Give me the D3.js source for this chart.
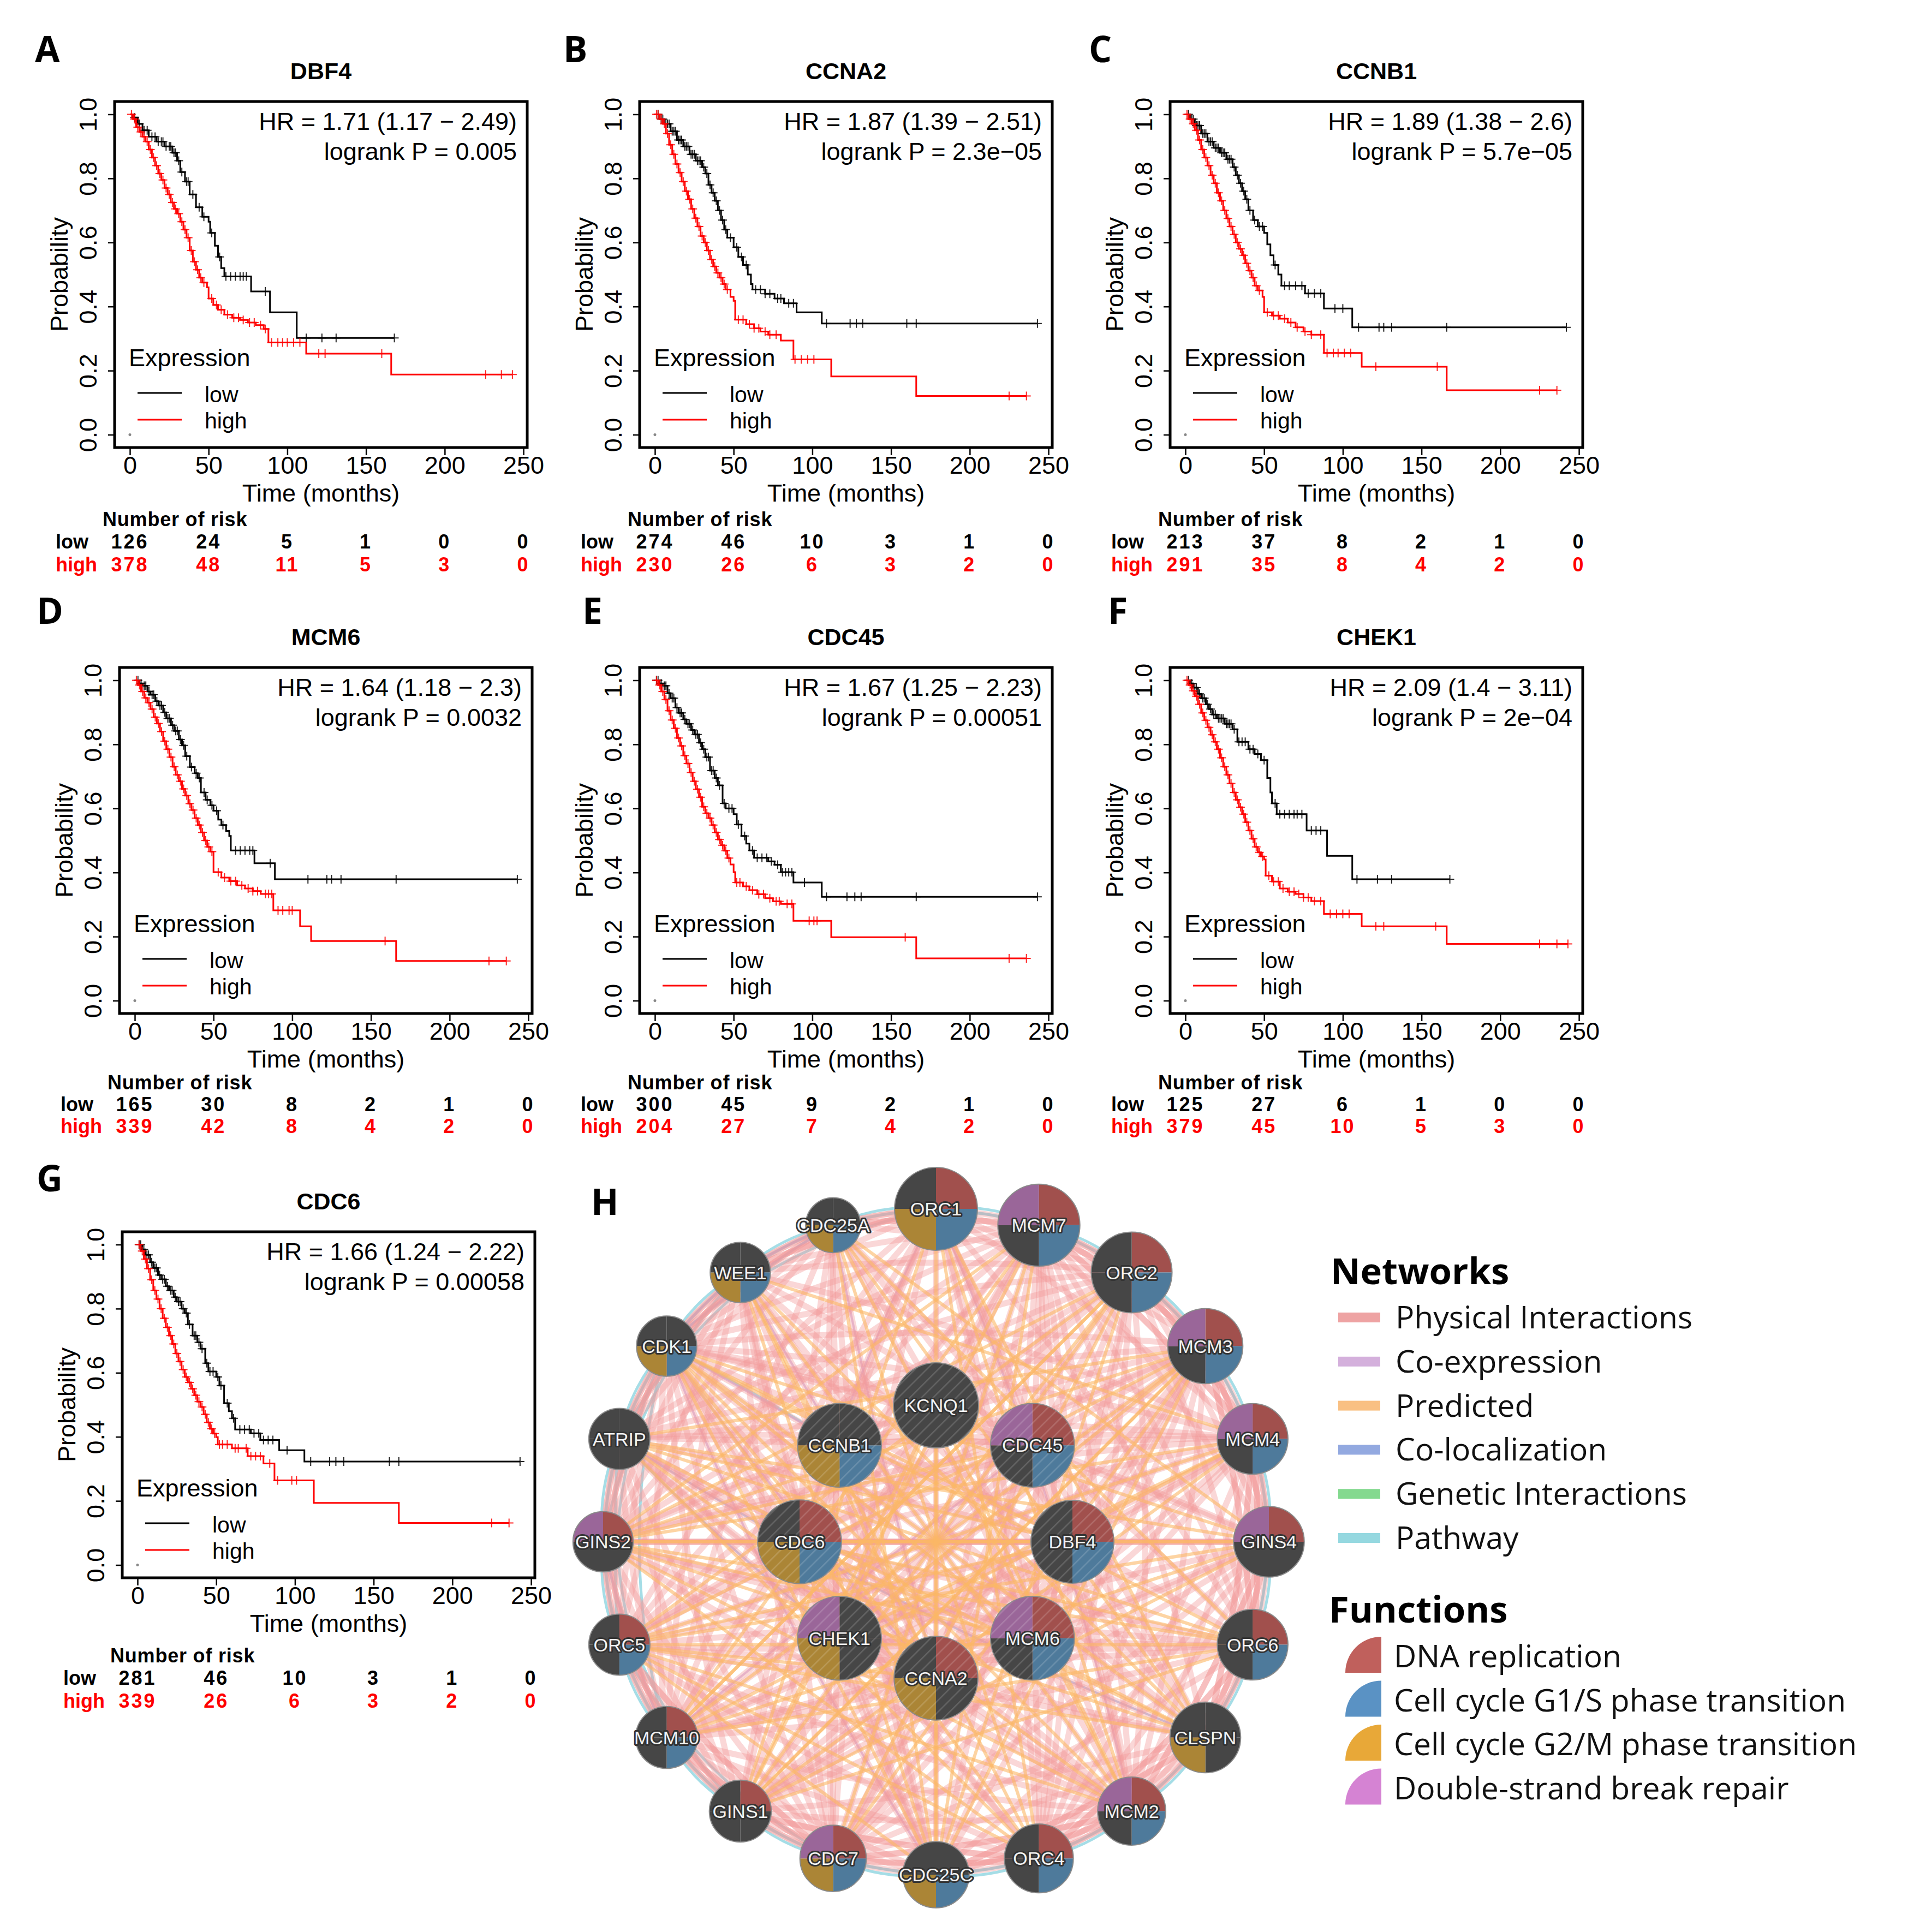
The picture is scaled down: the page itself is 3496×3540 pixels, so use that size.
<!DOCTYPE html>
<html><head><meta charset="utf-8">
<script src="https://cdn.jsdelivr.net/npm/d3@7"></script>
<style>body{margin:0;background:#fff}</style></head>
<body><svg id="c"></svg>
<script>
// ---------------- DATA ----------------
const genes = ["DBF4","CCNA2","CCNB1","MCM6","CDC45","CHEK1","CDC6"];
const panelLetters = ["A","B","C","D","E","F","G"];
const hrLabels = ["HR = 1.71 (1.17 \u2212 2.49)","HR = 1.87 (1.39 \u2212 2.51)","HR = 1.89 (1.38 \u2212 2.6)","HR = 1.64 (1.18 \u2212 2.3)","HR = 1.67 (1.25 \u2212 2.23)","HR = 2.09 (1.4 \u2212 3.11)","HR = 1.66 (1.24 \u2212 2.22)"];
const pLabels = ["logrank P = 0.005","logrank P = 2.3e\u221205","logrank P = 5.7e\u221205","logrank P = 0.0032","logrank P = 0.00051","logrank P = 2e\u221204","logrank P = 0.00058"];
const timeTicks = [0,50,100,150,200,250];
const probTicks = [0,0.2,0.4,0.6,0.8,1.0];
const riskLow  = [[126,24,5,1,0,0],[274,46,10,3,1,0],[213,37,8,2,1,0],[165,30,8,2,1,0],[300,45,9,2,1,0],[125,27,6,1,0,0],[281,46,10,3,1,0]];
const riskHigh = [[378,48,11,5,3,0],[230,26,6,3,2,0],[291,35,8,4,2,0],[339,42,8,4,2,0],[204,27,7,4,2,0],[379,45,10,5,3,0],[339,26,6,3,2,0]];

const lowSteps = [
 [[0,1],[2,0.99],[5,0.97],[8,0.95],[12,0.93],[17,0.915],[22,0.9],[27,0.88],[30,0.855],[32,0.82],[35,0.79],[38,0.75],[42,0.71],[46,0.68],[50,0.665],[51,0.63],[54,0.59],[56,0.555],[58,0.52],[60,0.494],[77,0.447],[89,0.382],[106,0.302]],
 [[0,1],[3,0.985],[6,0.97],[10,0.947],[14,0.92],[18,0.9],[22,0.875],[26,0.855],[30,0.835],[32,0.815],[34,0.78],[36,0.755],[38,0.73],[40,0.7],[42,0.67],[44,0.64],[46,0.615],[50,0.585],[53,0.555],[56,0.53],[59,0.5],[61,0.47],[62,0.453],[70,0.44],[76,0.425],[82,0.41],[90,0.382],[106,0.347]],
 [[0,1],[3,0.985],[6,0.965],[10,0.94],[14,0.915],[18,0.895],[22,0.88],[26,0.86],[30,0.835],[32,0.81],[34,0.785],[36,0.76],[38,0.735],[40,0.7],[43,0.67],[46,0.65],[50,0.63],[52,0.594],[54,0.56],[56,0.53],[59,0.5],[61,0.465],[76,0.441],[88,0.394],[106,0.335]],
 [[0,1],[3,0.99],[5,0.983],[8,0.965],[10,0.955],[13,0.935],[15,0.921],[18,0.9],[20,0.881],[23,0.86],[25,0.842],[28,0.815],[30,0.797],[32,0.763],[35,0.729],[38,0.71],[40,0.695],[42,0.65],[45,0.627],[48,0.61],[50,0.593],[53,0.565],[55,0.548],[58,0.53],[60,0.514],[61,0.469],[76,0.429],[89,0.379]],
 [[0,1],[3,0.99],[5,0.983],[8,0.96],[10,0.944],[13,0.915],[15,0.898],[18,0.878],[20,0.864],[23,0.845],[25,0.831],[28,0.805],[30,0.785],[32,0.76],[35,0.718],[38,0.695],[40,0.672],[43,0.616],[45,0.6],[50,0.582],[52,0.55],[55,0.514],[58,0.49],[60,0.469],[63,0.446],[72,0.435],[76,0.424],[80,0.401],[88,0.369],[106,0.324]],
 [[0,1],[3,0.99],[5,0.977],[8,0.958],[10,0.944],[13,0.925],[15,0.91],[17,0.893],[20,0.881],[25,0.864],[30,0.847],[33,0.808],[40,0.785],[44,0.77],[48,0.751],[52,0.695],[54,0.65],[55,0.616],[58,0.582],[77,0.531],[90,0.452],[106,0.379]],
 [[0,1],[3,0.985],[5,0.968],[8,0.945],[10,0.927],[13,0.905],[15,0.892],[18,0.87],[20,0.857],[23,0.836],[25,0.822],[28,0.8],[30,0.786],[32,0.751],[35,0.716],[38,0.695],[40,0.675],[43,0.63],[45,0.604],[50,0.587],[52,0.56],[55,0.505],[58,0.48],[60,0.458],[62,0.423],[72,0.411],[78,0.39],[90,0.358],[106,0.323]]
];
const highSteps = [
 [[0,1],[2,0.985],[4,0.96],[6,0.945],[8,0.93],[10,0.915],[12,0.89],[14,0.865],[16,0.84],[18,0.815],[20,0.795],[22,0.77],[24,0.75],[26,0.725],[28,0.705],[30,0.69],[32,0.665],[34,0.64],[36,0.615],[38,0.575],[40,0.54],[42,0.515],[44,0.49],[46,0.475],[49,0.46],[50,0.425],[53,0.405],[56,0.39],[60,0.375],[65,0.365],[70,0.358],[75,0.35],[80,0.342],[85,0.33],[88,0.288],[112,0.253],[166,0.188]],
 [[0,1],[3,0.985],[5,0.97],[7,0.94],[9,0.905],[11,0.875],[13,0.845],[15,0.818],[17,0.79],[19,0.76],[21,0.735],[23,0.705],[25,0.676],[27,0.65],[29,0.62],[31,0.6],[33,0.575],[35,0.547],[37,0.525],[39,0.505],[41,0.49],[43,0.47],[45,0.453],[48,0.43],[50,0.418],[51,0.359],[58,0.345],[63,0.332],[67,0.322],[72,0.312],[80,0.294],[88,0.235],[112,0.182],[166,0.121]],
 [[0,1],[2,0.985],[4,0.97],[6,0.95],[8,0.92],[10,0.89],[12,0.865],[14,0.84],[16,0.81],[18,0.785],[20,0.755],[22,0.73],[24,0.7],[26,0.675],[28,0.65],[30,0.625],[32,0.6],[34,0.58],[36,0.56],[38,0.535],[40,0.512],[42,0.49],[44,0.465],[46,0.45],[49,0.43],[50,0.382],[55,0.372],[60,0.362],[65,0.35],[70,0.335],[75,0.322],[80,0.312],[88,0.255],[112,0.212],[166,0.139]],
 [[0,1],[2,0.985],[4,0.965],[6,0.945],[8,0.93],[10,0.91],[12,0.885],[14,0.865],[16,0.84],[18,0.81],[20,0.785],[22,0.76],[24,0.73],[26,0.705],[28,0.685],[30,0.661],[32,0.64],[34,0.615],[36,0.595],[38,0.57],[40,0.548],[42,0.525],[44,0.5],[46,0.48],[48,0.465],[50,0.401],[55,0.384],[60,0.373],[65,0.36],[70,0.35],[75,0.342],[80,0.333],[88,0.282],[105,0.232],[112,0.186],[166,0.124]],
 [[0,1],[2,0.985],[4,0.965],[6,0.94],[8,0.905],[10,0.876],[12,0.85],[14,0.82],[16,0.795],[18,0.765],[20,0.74],[22,0.712],[24,0.685],[26,0.66],[28,0.635],[30,0.605],[32,0.585],[34,0.57],[36,0.548],[38,0.525],[40,0.503],[42,0.485],[44,0.468],[46,0.445],[48,0.425],[50,0.401],[51,0.369],[56,0.357],[60,0.345],[65,0.332],[70,0.32],[75,0.31],[80,0.302],[88,0.249],[112,0.198],[166,0.132]],
 [[0,1],[2,0.985],[4,0.967],[6,0.95],[8,0.925],[10,0.898],[12,0.875],[14,0.853],[16,0.83],[18,0.808],[20,0.785],[22,0.758],[24,0.73],[26,0.705],[28,0.678],[30,0.65],[32,0.627],[34,0.604],[36,0.582],[38,0.557],[40,0.531],[42,0.505],[44,0.48],[46,0.463],[48,0.45],[50,0.441],[51,0.39],[55,0.372],[60,0.35],[65,0.34],[70,0.333],[75,0.322],[80,0.311],[88,0.271],[112,0.232],[166,0.177]],
 [[0,1],[2,0.98],[4,0.955],[6,0.925],[8,0.89],[10,0.857],[12,0.83],[14,0.8],[16,0.77],[18,0.742],[20,0.716],[22,0.69],[24,0.66],[26,0.635],[28,0.61],[30,0.587],[32,0.57],[34,0.55],[36,0.53],[38,0.51],[40,0.493],[42,0.47],[44,0.445],[46,0.425],[48,0.41],[50,0.399],[51,0.376],[60,0.364],[70,0.34],[80,0.317],[87,0.264],[112,0.194],[166,0.131]]
];
const lowCensor = [
 [3,6,9,11,14,16,18,20,21,23,25,26,28,29,31,33,36,37,40,44,47,52,57,61,64,67,70,72,74,86,112,122,131,168],
 [2,4,5,7,8,9,11,12,13,15,16,17,19,20,21,23,24,25,27,28,29,31,33,35,37,39,41,43,45,48,52,55,58,64,67,70,73,78,80,85,88,109,124,128,132,160,166,243],
 [2,4,5,7,8,9,11,12,13,15,16,17,19,20,21,23,24,25,27,28,29,31,33,35,37,39,41,44,47,49,57,63,66,70,74,78,82,86,95,100,110,123,126,131,166,242],
 [2,4,6,7,9,11,12,14,16,17,19,21,22,24,26,27,29,31,33,36,39,41,44,46,49,52,56,64,67,70,73,75,86,110,122,125,131,166,243],
 [1,2,4,6,7,9,11,12,14,16,17,19,21,22,24,26,27,29,31,33,34,36,37,39,41,44,47,49,53,57,62,65,68,71,74,78,81,83,85,87,95,109,122,127,131,166,243],
 [2,4,6,7,9,11,12,14,16,18,19,21,22,23,24,26,27,28,29,31,34,36,38,41,43,46,50,57,60,63,66,69,71,74,80,83,86,109,122,131,168],
 [1,2,4,6,7,9,11,12,14,16,17,19,21,22,24,26,27,29,31,33,36,37,39,41,44,46,48,51,53,57,61,65,68,71,74,77,80,83,86,95,110,122,126,131,160,166,243]
];
const highCensor = [
 [1,3,5,7,9,11,13,15,17,19,21,23,25,27,29,31,33,35,37,39,41,43,45,47,52,55,58,62,66,69,72,76,79,83,86,90,94,97,100,104,108,120,124,160,226,236,243],
 [1,2,4,6,8,10,12,14,16,18,20,22,24,26,28,30,32,34,36,38,40,42,44,46,53,56,60,63,66,70,73,77,89,93,97,101,225,236],
 [1,3,5,7,9,11,13,15,17,19,21,23,25,27,29,31,33,35,37,39,41,43,45,47,52,56,59,63,67,71,76,80,86,90,94,97,101,105,121,160,225,236],
 [1,3,5,7,9,11,13,15,17,19,21,23,25,27,29,31,33,35,37,39,41,43,45,47,49,53,57,61,64,68,72,75,78,83,85,87,91,94,98,100,159,225,236],
 [1,3,5,7,9,11,13,15,17,19,21,23,25,27,29,31,33,35,37,39,41,43,45,47,52,54,58,62,66,69,73,77,79,84,87,98,101,103,159,225,236],
 [1,3,5,7,9,11,13,15,17,19,21,23,25,27,29,31,33,35,37,39,41,43,45,47,49,53,56,59,62,66,69,72,75,78,82,86,92,96,100,104,121,126,159,225,236,243],
 [1,3,5,7,9,11,13,15,17,19,21,23,25,27,29,31,33,35,37,39,41,43,45,47,49,52,54,57,62,64,69,72,75,78,84,89,98,101,225,236]
];

// Network (panel H)
const outerNodes = ["ORC1","MCM7","ORC2","MCM3","MCM4","GINS4","ORC6","CLSPN","MCM2","ORC4","CDC25C","CDC7","GINS1","MCM10","ORC5","GINS2","ATRIP","CDK1","WEE1","CDC25A"];
const outerScore = [0.95,0.94,0.925,0.86,0.81,0.81,0.81,0.81,0.78,0.79,0.76,0.76,0.71,0.71,0.70,0.69,0.70,0.69,0.69,0.63];
const outerFunc = [[1,1,1,0],[1,1,0,1],[1,1,0,0],[1,1,0,1],[1,1,0,1],[1,0,0,1],[1,1,0,0],[0,0,1,0],[1,1,0,1],[1,1,0,0],[0,1,1,0],[1,1,1,1],[1,0,0,0],[1,1,0,0],[1,1,0,0],[1,0,0,1],[0,0,0,0],[0,1,1,0],[0,1,1,0],[0,1,1,0]];
const innerNodes = ["KCNQ1","CDC45","DBF4","MCM6","CCNA2","CHEK1","CDC6","CCNB1"];
const innerScore = [0.975,0.96,0.95,0.96,0.96,0.96,0.96,0.96];
const innerFunc = [[0,0,0,0],[1,1,0,1],[1,1,0,0],[1,1,0,1],[1,0,1,0],[0,0,1,1],[1,1,1,0],[0,1,1,0]];
// function order: DNA replication, G1/S, G2/M, DSB repair
const functionNames = ["DNA replication","Cell cycle G1/S phase transition","Cell cycle G2/M phase transition","Double-strand break repair"];
const networkNames = ["Physical Interactions","Co-expression","Predicted","Co-localization","Genetic Interactions","Pathway"];

const physicalAdj = [
"ORC1: ORC2 ORC4 ORC5 ORC6 CDC6 MCM2 MCM3 MCM4 MCM6 MCM7 CDC45 DBF4 CDC7 CCNA2 MCM10 GINS2 CDK1 CDC25A CCNB1 GINS1 WEE1",
"ORC2: ORC4 ORC5 ORC6 CDC6 MCM2 MCM3 MCM4 MCM6 MCM7 DBF4 CDC7 MCM10 GINS1 CDC45 CDK1 ATRIP GINS2 WEE1 CDC25A",
"ORC4: ORC5 ORC6 CDC6 MCM2 MCM3 MCM6 MCM7 DBF4 MCM4 GINS4 MCM10 GINS1 CDC7 CDK1",
"ORC5: ORC6 CDC6 MCM2 MCM3 MCM4 MCM6 MCM7 MCM10 DBF4 CDC45 GINS2 GINS1 CDC7 GINS4 CCNA2 CDK1 WEE1",
"ORC6: CDC6 MCM2 MCM4 MCM6 MCM7 CDC45 CHEK1 MCM3 MCM10 GINS2 CDC7 DBF4 CLSPN",
"MCM2: MCM3 MCM4 MCM6 MCM7 MCM10 CDC45 GINS1 GINS2 GINS4 CDC7 DBF4 CDC6 CHEK1 CCNA2 CDK1 ATRIP CLSPN CDC25C WEE1 CDC25A",
"MCM3: MCM4 MCM6 MCM7 MCM10 CDC45 GINS1 GINS2 GINS4 CDC7 DBF4 CDC6 CCNA2 CDK1 CHEK1 ATRIP CDC25C",
"MCM4: MCM6 MCM7 MCM10 CDC45 GINS1 GINS2 GINS4 CDC7 DBF4 CDC6 CHEK1 CLSPN CDK1 ATRIP WEE1 CCNB1",
"MCM6: MCM7 MCM10 CDC45 GINS1 GINS2 GINS4 CDC7 DBF4 CDC6 CCNA2 CHEK1 CDK1 WEE1 CDC25A ATRIP",
"MCM7: MCM10 CDC45 GINS1 GINS2 GINS4 CDC7 DBF4 CDC6 CCNA2 CDK1 CHEK1 CLSPN ATRIP CDC25C WEE1",
"MCM10: CDC45 GINS1 GINS2 GINS4 CDC7 DBF4 CDC6 CHEK1 CCNA2 CDK1 ATRIP CDC25A WEE1",
"CDC45: GINS1 GINS2 GINS4 CDC7 DBF4 CDC6 CCNA2 CCNB1 CDK1 CLSPN CHEK1 ATRIP WEE1 CDC25A",
"GINS1: GINS2 GINS4 CDC7 DBF4 CDC6 CCNA2 CDK1 ATRIP CLSPN",
"GINS2: GINS4 CDC6 DBF4 CDC7 CHEK1 CDK1 ATRIP WEE1 CDC25A CCNB1",
"GINS4: CDC7 DBF4 CDC6 CDK1 CLSPN CDC25C",
"CDC6: CDC7 DBF4 CCNA2 CCNB1 CDK1 CHEK1 CDC25A WEE1 ATRIP CDC25C",
"CDC7: DBF4 CCNA2 CHEK1 CLSPN CDK1 CCNB1 ATRIP WEE1",
"DBF4: CCNA2 CHEK1 CLSPN CDK1 CCNB1 ATRIP CDC25A CDC25C",
"CCNA2: CCNB1 CDK1 CDC25A CDC25C WEE1 CHEK1 CLSPN ATRIP",
"CCNB1: CDK1 CDC25A CDC25C WEE1 CHEK1 CLSPN ATRIP",
"CDK1: CDC25A CDC25C WEE1 CHEK1 CLSPN ATRIP",
"CDC25A: CDC25C WEE1 CHEK1 ATRIP",
"CDC25C: WEE1 CHEK1 CLSPN",
"WEE1: CHEK1 ATRIP CLSPN",
"CHEK1: CLSPN ATRIP KCNQ1",
"CLSPN: ATRIP",
"KCNQ1: CCNB1 CDK1 MCM7",
"MCM7: ORC2 MCM3 MCM4 CDC25A",
"ORC2: MCM3 MCM4 GINS4",
"MCM3: GINS4 ORC6",
"MCM4: GINS4 ORC6 CLSPN",
"GINS4: ORC6 CLSPN MCM2",
"ORC6: CLSPN ORC4",
"CLSPN: MCM2 ORC4 CDC25C",
"MCM2: ORC4 CDC25C CDC7",
"ORC4: CDC25C CDC7 GINS1",
"CDC25C: CDC7 GINS1 MCM10",
"CDC7: GINS1 MCM10 ORC5",
"GINS1: MCM10 ORC5",
"MCM10: ORC5 GINS2",
"ORC5: GINS2 ATRIP",
"GINS2: ATRIP CDK1",
"ATRIP: CDK1 WEE1",
"CDK1: WEE1 CDC25A",
"WEE1: CDC25A ORC1",
"CDC25A: ORC1 MCM7"
];
const predictedAdj = [
"GINS2: DBF4 MCM4 GINS4 ORC6 CLSPN MCM3 CDC45 MCM6 ORC2 MCM7 MCM2 ORC4",
"ORC5: DBF4 GINS4 MCM4 CLSPN ORC2 MCM2 CCNA2 CDC25C ORC4 MCM3 ORC6",
"CDK1: MCM2 ORC4 GINS4 CLSPN MCM6 CCNA2 DBF4 ORC6 CDC25C",
"ATRIP: MCM3 ORC6 CLSPN ORC4 MCM2 GINS4 DBF4",
"WEE1: CLSPN MCM2 CCNA2 MCM4 ORC4 CDC25C",
"CDC25A: MCM2 CLSPN CDC25C ORC4 GINS4 ORC6",
"MCM10: MCM4 GINS4 ORC6 MCM3 ORC2",
"ORC1: CLSPN CDC25C MCM2 ORC4 GINS1",
"MCM7: GINS1 MCM10 CDC7 CDC25C",
"ORC2: GINS1 MCM10 CDC25C CDC7",
"MCM3: GINS1 CDC7 CDC25C",
"GINS1: ORC6 MCM4 GINS4 MCM3",
"KCNQ1: CDC25C CHEK1 MCM2 GINS1",
"CDC6: GINS4 ORC6 CLSPN",
"CHEK1: MCM3 ORC2 MCM4"
];
const pathwayAdj = [
"CDK1: WEE1 CDC25A ATRIP GINS2 ORC5 MCM10 ORC1 CCNB1",
"WEE1: CDC25A ORC1 ATRIP GINS2",
"CDC25A: ORC1 MCM7 ATRIP",
"ATRIP: GINS2 ORC5 MCM10",
"GINS2: ORC5 MCM10 GINS1",
"ORC5: MCM10 GINS1 CDC7",
"MCM10: GINS1 CDC7",
"GINS1: CDC7 CDC25C",
"CDC7: CDC25C ORC4",
"CDC25C: ORC4 MCM2",
"ORC4: MCM2 CLSPN",
"MCM2: CLSPN ORC6",
"CLSPN: ORC6 GINS4",
"ORC6: GINS4 MCM4",
"GINS4: MCM4 MCM3",
"MCM4: MCM3 ORC2",
"MCM3: ORC2 MCM7",
"ORC2: MCM7 ORC1",
"MCM7: ORC1"
];
const coexpAdj = ["CDK1: CCNB1 CCNA2 WEE1 CDC25C","WEE1: CCNB1 CDC25A","MCM10: CDC45 GINS2","ORC1: CDC6 MCM2","CDC25A: CCNA2 CDK1"];
const colocAdj = ["CDK1: WEE1 CDC25A","ATRIP: CHEK1 CLSPN","WEE1: CDC25A"];

// ---------------- LAYOUT / STYLE ----------------
const W = 3496, H = 3540;
const kmFont = "'Liberation Sans', Arial, sans-serif";
const calFont = "'Open Sans', 'Noto Sans', sans-serif";
const RED = "#ff0000";
const boxPos = [[210,186],[1172,186],[2144,186],[219,1223],[1172,1223],[2144,1223],[224,2257]];
const boxW = 756, boxH = 634;
const letterPos = [[64,114],[1032,114],[1995,114],[67,1143],[1067,1143],[2030,1143],[67,2183]];
const riskOff = [[144,185,227],[144,185,227],[144,185,227],[139,179,219],[139,179,219],[139,179,219],[155,196,238]];
const timeDomain = [-9.7,252.4], probDomain = [-0.04,1.04];

const svg = d3.select("#c").attr("width",W).attr("height",H).attr("viewBox",`0 0 ${W} ${H}`);
svg.append("rect").attr("width",W).attr("height",H).attr("fill","#fff");

// ---------------- KM PANELS ----------------
genes.forEach((gene,i)=>{
  const [bx,by] = boxPos[i];
  const g = svg.append("g");
  const x = d3.scaleLinear().domain(timeDomain).range([bx,bx+boxW]);
  const y = d3.scaleLinear().domain(probDomain).range([by+boxH,by]);

  svg.append("text").attr("x",letterPos[i][0]).attr("y",letterPos[i][1]).text(panelLetters[i])
     .attr("font-family",calFont).attr("font-weight",700).attr("font-size",66);
  g.append("text").attr("x",bx+boxW/2).attr("y",by-41).attr("text-anchor","middle").text(gene)
     .attr("font-family",kmFont).attr("font-weight",700).attr("font-size",43);

  const xa = g.append("g").attr("transform",`translate(0,${by+boxH})`)
     .call(d3.axisBottom(x).tickValues(timeTicks).tickSize(14).tickPadding(2).tickSizeOuter(0));
  xa.select(".domain").remove();
  xa.selectAll("line").attr("stroke","#000").attr("stroke-width",2.5);
  xa.selectAll("text").attr("font-family",kmFont).attr("font-size",45).attr("fill","#000");

  const ya = g.append("g").attr("transform",`translate(${bx},0)`)
     .call(d3.axisLeft(y).tickValues(probTicks).tickFormat(d3.format(".1f")).tickSize(12).tickSizeOuter(0));
  ya.select(".domain").remove();
  ya.selectAll("line").attr("stroke","#000").attr("stroke-width",2.5);
  ya.selectAll("text").attr("x",null).attr("dy",null).attr("text-anchor","middle")
     .attr("transform","translate(-33,0) rotate(-90)")
     .attr("font-family",kmFont).attr("font-size",45).attr("fill","#000");

  g.append("text").attr("transform",`translate(${bx-86},${by+boxH/2}) rotate(-90)`).attr("text-anchor","middle")
     .text("Probability").attr("font-family",kmFont).attr("font-size",45);
  g.append("text").attr("x",bx+boxW/2).attr("y",by+boxH+99).attr("text-anchor","middle")
     .text("Time (months)").attr("font-family",kmFont).attr("font-size",45);

  g.append("circle").attr("cx",x(0)).attr("cy",y(0)).attr("r",2.5).attr("fill","#888");

  const series = [[lowSteps[i],lowCensor[i],"#000"],[highSteps[i],highCensor[i],RED]];
  const bis = d3.bisector(d=>d[0]).right;
  series.forEach(([steps,cens,col])=>{
    const end = d3.max(cens);
    const pts = steps.concat([[end, steps[steps.length-1][1]]]);
    g.append("path").attr("d", d3.line().x(d=>x(d[0])).y(d=>y(d[1])).curve(d3.curveStepAfter)(pts))
      .attr("fill","none").attr("stroke",col).attr("stroke-width",3);
    g.selectAll(null).data(cens).enter().append("path")
      .attr("transform",t=>`translate(${x(t)},${y(steps[bis(steps,t)-1][1])})`)
      .attr("d","M-8,0H8M0,-8V8").attr("stroke",col).attr("stroke-width",2).attr("opacity",0.85);
  });

  g.append("rect").attr("x",bx).attr("y",by).attr("width",boxW).attr("height",boxH)
     .attr("fill","none").attr("stroke","#000").attr("stroke-width",5);

  g.append("text").attr("x",bx+boxW-19).attr("y",by+52).attr("text-anchor","end").text(hrLabels[i])
     .attr("font-family",kmFont).attr("font-size",45);
  g.append("text").attr("x",bx+boxW-19).attr("y",by+107).attr("text-anchor","end").text(pLabels[i])
     .attr("font-family",kmFont).attr("font-size",45);
  g.append("text").attr("x",bx+26).attr("y",by+485).text("Expression").attr("font-family",kmFont).attr("font-size",45);
  [["low","#000",534,551],["high",RED,583,599]].forEach(([lab,col,ly,ty])=>{
    g.append("line").attr("x1",bx+42).attr("x2",bx+123).attr("y1",by+ly).attr("y2",by+ly).attr("stroke",col).attr("stroke-width",3);
    g.append("text").attr("x",bx+165).attr("y",by+ty).text(lab).attr("font-family",kmFont).attr("font-size",41);
  });

  // risk table
  const base = by+boxH;
  const riskStyle = s=>s.attr("font-family",kmFont).attr("font-weight",700).attr("font-size",36);
  g.append("text").attr("x",bx-22).attr("y",base+riskOff[i][0]).text("Number of risk").call(riskStyle).attr("letter-spacing",0.8);
  [["low",riskLow[i],"#000",riskOff[i][1]],["high",riskHigh[i],RED,riskOff[i][2]]].forEach(([lab,vals,col,off])=>{
    g.append("text").attr("x",bx-108).attr("y",base+off).text(lab).attr("fill",col).call(riskStyle);
    g.selectAll(null).data(vals).enter().append("text")
      .attr("x",(d,j)=>x(timeTicks[j])).attr("y",base+off).attr("text-anchor","middle").text(d=>d)
      .attr("fill",col).call(riskStyle).attr("letter-spacing",3);
  });
});

// ---------------- NETWORK PANEL H ----------------
svg.append("text").attr("x",1083).attr("y",2226).text("H").attr("font-family",calFont).attr("font-weight",700).attr("font-size",66);

const defs = svg.append("defs");
const pat = defs.append("pattern").attr("id","hatch").attr("patternUnits","userSpaceOnUse")
  .attr("width",15).attr("height",15).attr("patternTransform","rotate(45)");
pat.append("line").attr("x1",0).attr("y1",0).attr("x2",0).attr("y2",15).attr("stroke","rgba(255,255,255,0.16)").attr("stroke-width",5);

const cx = 1715, cy = 2825, R1 = 610, R2 = 250;
const outerAng = d3.scaleLinear().domain([0,outerNodes.length]).range([-Math.PI/2, 1.5*Math.PI]);
const innerAng = d3.scaleLinear().domain([0,innerNodes.length]).range([-Math.PI/2, 1.5*Math.PI]);
const rScale = d3.scaleLinear().domain([0,1]).range([0,80]);
const nodes = {};
outerNodes.forEach((n,i)=>{ nodes[n] = {name:n, x:cx+R1*Math.cos(outerAng(i)), y:cy+R1*Math.sin(outerAng(i)), r:rScale(outerScore[i]), f:outerFunc[i], q:false}; });
innerNodes.forEach((n,i)=>{ nodes[n] = {name:n, x:cx+R2*Math.cos(innerAng(i)), y:cy+R2*Math.sin(innerAng(i)), r:rScale(innerScore[i]), f:innerFunc[i], q:true}; });

function parseAdj(list){
  const out=[];
  list.forEach(s=>{ const parts=s.split(":"); const a=parts[0].trim();
    parts[1].trim().split(/\s+/).forEach(b=>{ if(nodes[a]&&nodes[b]) out.push([nodes[a],nodes[b]]); }); });
  return out;
}
function edgePath(a,b,bend){
  const mx=(a.x+b.x)/2, my=(a.y+b.y)/2;
  let dx=mx-cx, dy=my-cy; const dl=Math.hypot(dx,dy)||1;
  const len=Math.hypot(b.x-a.x,b.y-a.y);
  const qx=mx+dx/dl*len*bend, qy=my+dy/dl*len*bend;
  const p=d3.path(); p.moveTo(a.x,a.y); p.quadraticCurveTo(qx,qy,b.x,b.y); return p.toString();
}
const edgeLayer = svg.append("g");
const edgeTypes = [
  [pathwayAdj,"#8fd4e0",5,0.8,0.14],
  [coexpAdj,"#d3a8da",4,0.7,0.05],
  [colocAdj,"#9fb2e2",4,0.7,0.05],
  [physicalAdj,"#f29a9a",11,0.4,0.05],
  [predictedAdj,"#fbb866",6,0.6,0.0]
];
edgeTypes.forEach(([adj,col,w,op,bend])=>{
  edgeLayer.selectAll(null).data(parseAdj(adj)).enter().append("path")
    .attr("d",d=>edgePath(d[0],d[1],bend)).attr("fill","none")
    .attr("stroke",col).attr("stroke-width",w).attr("stroke-opacity",op).attr("stroke-linecap","round");
});

const funcCols = ["#a1504d","#4e7a9b","#ab8536","#9a6699"];
const nodeGray = "#464646";
const arc = d3.arc().innerRadius(0);
const quadrants = [[0,Math.PI/2],[Math.PI/2,Math.PI],[Math.PI,1.5*Math.PI],[1.5*Math.PI,2*Math.PI]];
const nodeLayer = svg.append("g");
Object.values(nodes).forEach(n=>{
  const ng = nodeLayer.append("g").attr("transform",`translate(${n.x},${n.y})`);
  ng.selectAll(null).data(quadrants).enter().append("path")
    .attr("d",(q)=>arc({outerRadius:n.r,startAngle:q[0],endAngle:q[1]}))
    .attr("fill",(q,k)=>n.f[k]?funcCols[k]:nodeGray);
  if(n.q) ng.append("circle").attr("r",n.r).attr("fill","url(#hatch)");
  ng.append("circle").attr("r",n.r).attr("fill","none").attr("stroke","#8a8a8a").attr("stroke-width",2);
  ng.append("text").attr("text-anchor","middle").attr("dy","0.36em").text(n.name)
    .attr("font-family",kmFont).attr("font-size",34).attr("fill","#f2f2f2")
    .attr("stroke","#333").attr("stroke-width",6).attr("paint-order","stroke").attr("stroke-linejoin","round");
});

// ---------------- LEGEND ----------------
const leg = svg.append("g").attr("font-family",calFont);
leg.append("text").attr("x",2438).attr("y",2353).text("Networks").attr("font-weight",700).attr("font-size",67);
const netCols = ["#eea3a3","#d4b0dc","#f9c083","#93a9e0","#84d98f","#95d8e0"];
leg.selectAll(null).data(networkNames).enter().append("g").each(function(d,i){
  const yy = 2414 + 80.8*i;
  d3.select(this).append("rect").attr("x",2452).attr("y",yy-9).attr("width",77).attr("height",18).attr("fill",netCols[i]);
  d3.select(this).append("text").attr("x",2557).attr("y",yy+20).text(d).attr("font-size",57).attr("fill","#111");
});
leg.append("text").attr("x",2435).attr("y",2973).text("Functions").attr("font-weight",700).attr("font-size",67);
const legFuncCols = ["#c0605c","#5a92c4","#e8a838","#d583d3"];
const qArc = d3.arc().innerRadius(0).outerRadius(66).startAngle(-Math.PI/2).endAngle(0);
leg.selectAll(null).data(functionNames).enter().append("g").each(function(d,i){
  const yy = 3034 + 80.5*i;
  d3.select(this).append("path").attr("transform",`translate(2531,${yy+31})`).attr("d",qArc()).attr("fill",legFuncCols[i]);
  d3.select(this).append("text").attr("x",2554).attr("y",yy+21).text(d).attr("font-size",57).attr("fill","#111");
});
</script></body></html>
